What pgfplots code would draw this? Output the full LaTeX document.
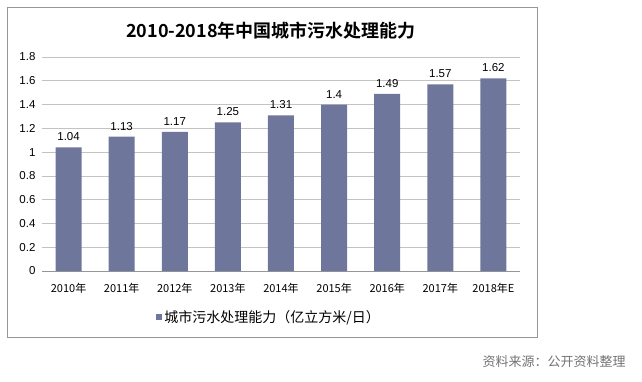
\documentclass[border=0pt]{standalone}
\usepackage{pgfplots}
\pgfplotsset{compat=1.18}
\usepackage{fontspec}
\setmainfont{Liberation Sans}
\newfontfamily\cjk{Noto Sans CJK SC}[BoldFont={Noto Sans CJK SC Bold}]
\definecolor{barcol}{RGB}{110,118,156}
\definecolor{gridc}{RGB}{195,195,195}
\definecolor{axc}{RGB}{150,150,150}
\begin{document}
\begin{tikzpicture}[x=1pt,y=-1pt]
\path[use as bounding box] (0,0) rectangle (642,382);
\draw[axc, line width=0.8pt] (7,7) rectangle (537,337);
\node[font=\cjk\bfseries\fontsize{18}{20}\selectfont] at (271,31) {2010-2018年中国城市污水处理能力};
\node[font=\cjk\fontsize{13}{15}\selectfont, text=black!55] at (554,362) {资料来源：公开资料整理};
\begin{axis}[
  at={(42pt,-271pt)}, anchor=south west,
  scale only axis, width=478pt, height=214pt,
  xmin=-0.5, xmax=8.5, ymin=0, ymax=1.8,
  axis x line*=bottom, axis y line*=left,
  y axis line style={draw=none},
  x axis line style={axc, line width=0.8pt},
  ytick={0,0.2,0.4,0.6,0.8,1,1.2,1.4,1.6,1.8},
  yticklabels={0,0.2,0.4,0.6,0.8,1,1.2,1.4,1.6,1.8},
  major y tick style={draw=none},
  ymajorgrids, grid style={gridc, line width=0.7pt},
  yticklabel style={font=\fontsize{11.5}{13}\selectfont, xshift=-3pt},
  xtick={0,...,8},
  xticklabels={2010年,2011年,2012年,2013年,2014年,2015年,2016年,2017年,2018年E},
  xticklabel style={font=\cjk\fontsize{11}{13}\selectfont, yshift=-4pt},
  major x tick style={draw=none},
  extra x ticks={-0.5,0.5,1.5,2.5,3.5,4.5,5.5,6.5,7.5,8.5},
  extra x tick labels={},
  extra x tick style={major tick length=5pt, tick align=outside, major x tick style={axc, line width=0.8pt}, xmajorgrids=false},
  ybar, bar width=26pt,
  nodes near coords,
  nodes near coords style={font=\fontsize{11.5}{13}\selectfont, text=black, yshift=3pt},
  /pgf/number format/assume math mode=true,
  legend style={at={(0.475,-0.215)}, anchor=center, draw=none, fill=none,
    font=\cjk\fontsize{14}{16}\selectfont},
  legend image code/.code={\fill[barcol] (0pt,-3pt) rectangle (6pt,3pt);},
]
\addplot[fill=barcol, draw=none] coordinates {
  (0,1.04) (1,1.13) (2,1.17) (3,1.25) (4,1.31) (5,1.4) (6,1.49) (7,1.57) (8,1.62)
};
\addlegendentry{城市污水处理能力（亿立方米/日）}
\end{axis}
\end{tikzpicture}
\end{document}
